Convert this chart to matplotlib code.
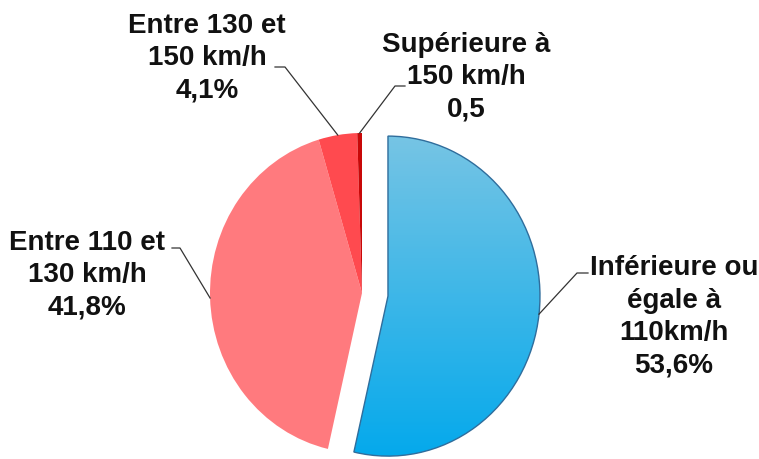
import numpy as np
import matplotlib
matplotlib.use("Agg")
import matplotlib.pyplot as plt

# data
categories = ["Inférieure ou\négale à\n110km/h", "Entre 110 et\n130 km/h",
              "Entre 130 et\n150 km/h", "Supérieure à\n150 km/h"]
values = [53.6, 41.8, 4.1, 0.5]
value_labels = ["53,6%", "41,8%", "4,1%", "0,5"]

colors = ["#2fb4ea", "#ff7a7e", "#ff4a4f", "#c80808"]
explode = [0.172, 0, 0, 0]

plt.rcParams["font.family"] = ["Liberation Sans", "DejaVu Sans"]

fig = plt.figure(figsize=(7.59, 4.59), dpi=100)
ax = fig.add_axes([0, 0, 1, 1])

wedges, _ = ax.pie(values, colors=colors, explode=explode, startangle=90,
                   counterclock=False, radius=1.0,
                   wedgeprops=dict(linewidth=0))

# vertical gradient on the blue slice
blue = wedges[0]
blue.set_edgecolor("#2f6d9c")
blue.set_linewidth(1.0)
grad = np.linspace(0, 1, 256).reshape(-1, 1)
top = np.array([125, 198, 228]) / 255
bot = np.array([0, 168, 236]) / 255
img = top + (bot - top) * grad[:, :, None]
im = ax.imshow(img, extent=(-0.2, 1.3, -1.1, 1.1), origin="upper",
               aspect="auto", zorder=blue.get_zorder() - 0.01)
im.set_clip_path(blue)
blue.set_facecolor("none")

# pixel mapping: center at (362, 293), rx = 152 px, ry = 160 px
ax.set_aspect("auto")
ax.set_xlim(-362 / 152, (759 - 362) / 152)
ax.set_ylim((293 - 459) / 160, 293 / 160)
ax.axis("off")


def px(x, y):
    return (x - 362) / 152, (293 - y) / 160


# text centres and leader elbows (pixel positions on the image)
label_pos = [(674, 317), (87, 275), (207, 58), (466, 77)]
elbows = [((577, 273), (588, 273)), ((180, 248), (172, 248)),
          ((285, 67), (275, 67)), ((395, 86), (405, 86))]

for i, w in enumerate(wedges):
    mid = np.deg2rad((w.theta1 + w.theta2) / 2)
    cx, cy = w.center
    anchor = (cx + w.r * np.cos(mid), cy + w.r * np.sin(mid))
    e1 = px(*elbows[i][0])
    e2 = px(*elbows[i][1])
    ax.plot([anchor[0], e1[0], e2[0]], [anchor[1], e1[1], e2[1]],
            color="#333333", lw=0.9, zorder=5)
    tx, ty = px(*label_pos[i])
    ax.text(tx, ty, categories[i] + "\n" + value_labels[i], ha="center",
            va="center", fontsize=20, fontweight="bold", color="#111111",
            linespacing=1.32, zorder=6)

fig.savefig("out.png", dpi=100)
